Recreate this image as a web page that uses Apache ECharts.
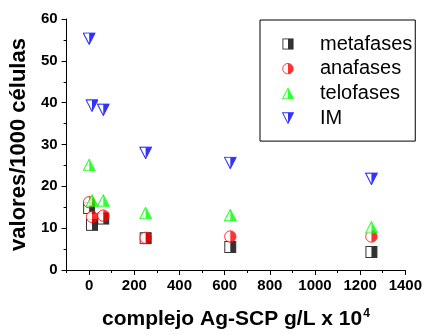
<!DOCTYPE html>
<html>
<head>
<meta charset="utf-8">
<script src="https://cdn.jsdelivr.net/npm/echarts@6/dist/echarts.min.js"></script>
<style>html,body{margin:0;padding:0;background:#fff}#c{width:425px;height:335px}</style>
</head>
<body>
<div id="c"></div>
<script>
// Data
const concentrations = [0, 12.5, 62.5, 250, 625, 1250];
const metafases = [14.8, 10.8, 12.3, 7.6, 5.5, 4.3];
const anafases = [16.2, 12.7, 13.0, 7.7, 8.0, 8.0];
const telofases = [25.1, 16.6, 16.6, 13.6, 13.1, 10.2];
const im = [55.3, 39.3, 38.3, 28.0, 25.6, 21.8];
const seriesNames = ['metafases', 'anafases', 'telofases', 'IM'];
const xMajorTicks = [0, 200, 400, 600, 800, 1000, 1200, 1400];
const xMinorTicks = [-100, 100, 300, 500, 700, 900, 1100, 1300];

function svgUri(svg) {
  return 'image://data:image/svg+xml;charset=utf-8,' + encodeURIComponent(svg);
}
const S = 'xmlns="http://www.w3.org/2000/svg" width="26" height="26" viewBox="0 0 13 13"';
const icons = {
  metafases: svgUri('<svg ' + S + '><rect x="1" y="1" width="11" height="11" fill="#fff" stroke="#000" stroke-width="1"/><rect x="6.5" y="1" width="5.5" height="11" fill="#000"/></svg>'),
  anafases: svgUri('<svg ' + S + '><circle cx="6.5" cy="6.5" r="5.7" fill="#fff" stroke="#ff0000" stroke-width="1"/><path d="M6.5,0.8 A5.7,5.7 0 0 1 6.5,12.2 Z" fill="#ff0000"/></svg>'),
  telofases: svgUri('<svg ' + S + '><polygon points="6.5,0.8 12.4,12.2 0.6,12.2" fill="#fff" stroke="#00ff00" stroke-width="1.1"/><polygon points="6.5,0.8 12.4,12.2 6.5,12.2" fill="#00ff00"/></svg>'),
  IM: svgUri('<svg ' + S + '><polygon points="0.6,0.8 12.4,0.8 6.5,12.2" fill="#fff" stroke="#0000ff" stroke-width="1.1"/><polygon points="6.5,0.8 12.4,0.8 6.5,12.2" fill="#0000ff"/></svg>')
};
const colors = { metafases: '#000', anafases: '#ff0000', telofases: '#00ff00', IM: '#0000ff' };
const values = { metafases: metafases, anafases: anafases, telofases: telofases, IM: im };

const chart = echarts.init(document.getElementById('c'));
const axisFont = { fontFamily: 'Liberation Sans', fontWeight: 'bold', color: '#000' };

chart.setOption({
  backgroundColor: '#fff',
  animation: false,
  grid: { left: 63, right: 18, top: 19, bottom: 60 },
  legend: {
    orient: 'vertical',
    left: 260, top: 20,
    padding: [14, 3, 13, 22],
    borderColor: '#000', borderWidth: 1,
    itemWidth: 12, itemHeight: 12, itemGap: 4.7,
    textStyle: { fontFamily: 'Liberation Sans', fontSize: 20, color: '#000', padding: [0, 0, 0, 21] },
    data: seriesNames.map(n => ({ name: n, icon: icons[n] }))
  },
  xAxis: [{
    type: 'value', min: -100, max: 1400,
    splitLine: { show: false },
    axisLine: { show: true, onZero: false, lineStyle: { color: '#000', width: 1 } },
    axisTick: { show: true, customValues: xMajorTicks, length: 5, lineStyle: { color: '#000', width: 1 } },
    axisLabel: { show: true, customValues: xMajorTicks, fontSize: 15, margin: 8, formatter: v => String(v), fontFamily: 'Liberation Sans', fontWeight: 'bold', color: '#000' },
    name: '{a|complejo Ag-SCP g/L x 10}{s|4}',
    nameLocation: 'middle', nameGap: 38,
    nameTextStyle: {
      rich: {
        a: Object.assign({ fontSize: 21 }, axisFont),
        s: Object.assign({ fontSize: 12, padding: [0, 0, 11, 1] }, axisFont)
      }
    }
  }, {
    type: 'value', min: -100, max: 1400, position: 'bottom',
    splitLine: { show: false },
    axisLine: { show: false, onZero: false },
    axisTick: { show: true, customValues: xMinorTicks, length: 3, lineStyle: { color: '#000', width: 1 } },
    axisLabel: { show: false }
  }],
  yAxis: {
    type: 'value', min: 0, max: 60, interval: 10,
    splitLine: { show: false },
    axisLine: { show: true, onZero: false, lineStyle: { color: '#000', width: 1 } },
    axisTick: { show: true, length: 5, lineStyle: { color: '#000', width: 1 } },
    minorTick: { show: true, splitNumber: 2, length: 3, lineStyle: { color: '#000', width: 1 } },
    axisLabel: { show: true, fontSize: 15, margin: 9, fontFamily: 'Liberation Sans', fontWeight: 'bold', color: '#000' },
    name: 'valores/1000 células',
    nameLocation: 'middle', nameGap: 36,
    nameTextStyle: Object.assign({ fontSize: 22 }, axisFont)
  },
  series: seriesNames.map(n => ({
    name: n,
    type: 'scatter',
    symbol: icons[n],
    symbolSize: 13,
    itemStyle: { color: colors[n] },
    data: concentrations.map((x, i) => [x, values[n][i]])
  }))
});
</script>
</body>
</html>
